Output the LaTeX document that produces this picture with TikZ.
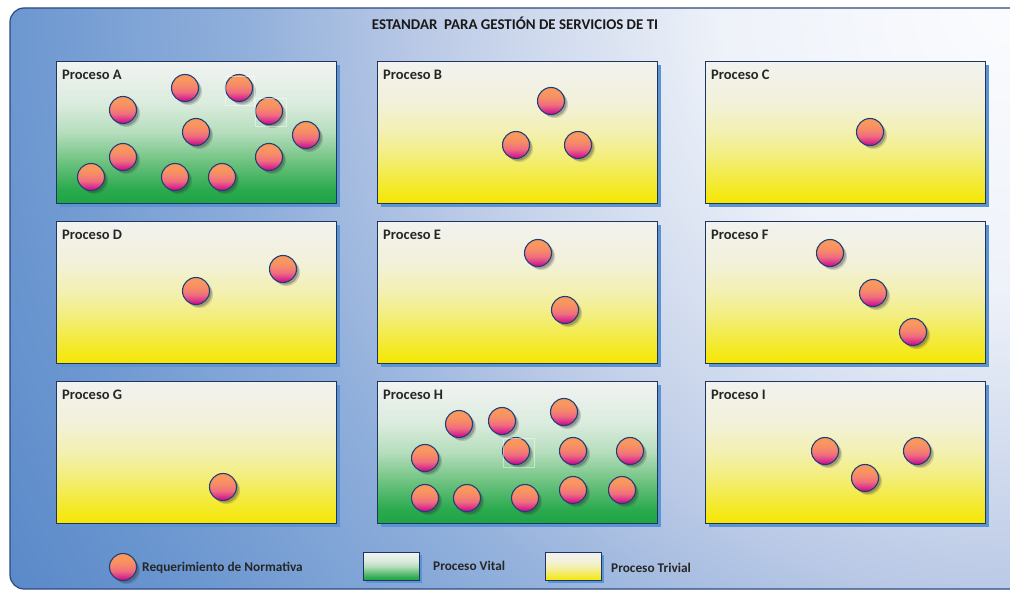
\documentclass[tikz,border=0pt]{standalone}
\usepackage{fontspec}
\setmainfont{Carlito}
\usetikzlibrary{shadows}

% palette
\definecolor{bgline}{HTML}{2E4A7D}
\definecolor{boxedge}{HTML}{1F3560}
\definecolor{boxshade}{HTML}{5B93D3}
\definecolor{balledge}{HTML}{1F3F7A}
\definecolor{ball1}{HTML}{F9985E}
\definecolor{ball2}{HTML}{F68A68}
\definecolor{ball3}{HTML}{EE6A80}
\definecolor{ball4}{HTML}{D0108F}
\definecolor{labelgray}{HTML}{262626}
% background glow
\definecolor{bg0}{HTML}{FBFCFE}
\definecolor{bg1}{HTML}{EEF2F9}
\definecolor{bg2}{HTML}{C9D5EB}
\definecolor{bg3}{HTML}{BAC9E6}
\definecolor{bg4}{HTML}{90AFDB}
\definecolor{bg5}{HTML}{6C97D0}
\definecolor{bg6}{HTML}{5A89C9}
% green fill of vital processes
\definecolor{vg1}{HTML}{1DA544}
\definecolor{vg2}{HTML}{2AAA4E}
\definecolor{vg3}{HTML}{6FC381}
\definecolor{vg4}{HTML}{B5DDBC}
\definecolor{vg5}{HTML}{DAEBDD}
\definecolor{vg6}{HTML}{F2F3F2}
% yellow fill of trivial processes
\definecolor{yg1}{HTML}{F5E700}
\definecolor{yg2}{HTML}{F4EA3A}
\definecolor{yg3}{HTML}{F3EE7E}
\definecolor{yg4}{HTML}{F3F0B0}
\definecolor{yg5}{HTML}{F2F1D8}
\definecolor{yg6}{HTML}{F2F2F0}

\pgfdeclareradialshading{bgglow}{\pgfpointorigin}{color(0bp)=(bg0); color(6bp)=(bg1); color(10.6bp)=(bg2); color(12.3bp)=(bg3); color(16bp)=(bg4); color(20.8bp)=(bg5); color(24.2bp)=(bg6); color(50bp)=(bg6)}
\pgfdeclareverticalshading{vitalfill}{100bp}{color(0bp)=(vg1); color(25bp)=(vg1); color(30bp)=(vg2); color(40bp)=(vg3); color(50bp)=(vg4); color(60bp)=(vg5); color(75bp)=(vg6); color(100bp)=(vg6)}
\pgfdeclareverticalshading{trivialfill}{100bp}{color(0bp)=(yg1); color(25bp)=(yg1); color(33bp)=(yg2); color(42bp)=(yg3); color(50bp)=(yg4); color(60bp)=(yg5); color(75bp)=(yg6); color(100bp)=(yg6)}
\pgfdeclareverticalshading{ballfill}{100bp}{color(0bp)=(ball4); color(27bp)=(ball4); color(42bp)=(ball3); color(55bp)=(ball2); color(66bp)=(ball1); color(100bp)=(ball1)}

\tikzset{
  procbox/.style={rectangle, draw=boxedge, line width=1.1pt, anchor=north west,
    minimum width=280pt, minimum height=142pt, inner sep=0pt, shade,
    drop shadow={shadow xshift=3pt, shadow yshift=-3pt, fill=boxshade, opacity=1}},
  vital/.style={procbox, shading=vitalfill},
  trivial/.style={procbox, shading=trivialfill},
  proclabel/.style={anchor=west, inner sep=0pt, text=labelgray,
    font=\fontsize{14.5}{16}\selectfont\bfseries},
  req/.style={circle, draw=balledge, line width=1.1pt, minimum size=27pt, inner sep=0pt,
    shade, shading=ballfill,
    drop shadow={shadow xshift=3.5pt, shadow yshift=-3.5pt, opacity=0.18, fill=black!80},
    drop shadow={shadow xshift=2.2pt, shadow yshift=-2.2pt, opacity=0.3, fill=black!80}},
  selframe/.style={draw=white, line width=0.5pt, opacity=0.45},
  legbox/.style={rectangle, draw=boxedge, line width=1.1pt, anchor=north west,
    minimum width=56pt, minimum height=28pt, inner sep=0pt, shade,
    drop shadow={shadow xshift=2.5pt, shadow yshift=-2.5pt, fill=boxshade, opacity=1}},
  legtext/.style={anchor=west, inner sep=0pt, text=labelgray,
    font=\fontsize{13.3}{15}\selectfont\bfseries},
}

\begin{document}
\begin{tikzpicture}[x=1pt, y=-1pt]
\useasboundingbox (0,0) rectangle (1010,591);

% panel background
\begin{scope}
  \clip[rounded corners=14pt] (1030,8) -- (10,8) -- (10,589) -- (1030,589) -- cycle;
  \shade[shading=bgglow] (1010,0) circle[radius=1200];
\end{scope}
\draw[bgline, line width=1.2pt, rounded corners=14pt] (1030,8) -- (10,8) -- (10,589) -- (1030,589);

\node[text=black!90, inner sep=0pt, font=\fontsize{14.9}{17}\selectfont\bfseries] (title) at (515,23)
  {ESTANDAR\ \ PARA GESTIÓN DE SERVICIOS DE TI};

% process boxes
\node[vital]   (boxA) at (56,61)  {};
\node[trivial] (boxB) at (377,61) {};
\node[trivial] (boxC) at (705,61) {};
\node[trivial] (boxD) at (56,221)  {};
\node[trivial] (boxE) at (377,221) {};
\node[trivial] (boxF) at (705,221) {};
\node[trivial] (boxG) at (56,381)  {};
\node[vital]   (boxH) at (377,381) {};
\node[trivial] (boxI) at (705,381) {};

\foreach \b in {A,B,C,D,E,F,G,H,I}
  \node[proclabel] (lab\b) at ([xshift=6pt, yshift=-14pt]box\b.north west) {Proceso \b};

% Proceso A
\node[req] (a1)  at (123,110) {};
\node[req] (a2)  at (185,88)  {};
\node[req] (a3)  at (239,88)  {};
\node[req] (a4)  at (269,111) {};
\node[req] (a5)  at (196,132) {};
\node[req] (a6)  at (306,135) {};
\node[req] (a7)  at (123,157) {};
\node[req] (a8)  at (269,157) {};
\node[req] (a9)  at (91,177)  {};
\node[req] (a10) at (175,177) {};
\node[req] (a11) at (222,177) {};
\draw[selframe] (225.5,76.5) rectangle (254,105);
\draw[selframe] (255,98) rectangle (286.5,126.5);

% Proceso B
\node[req] (b1) at (551,101) {};
\node[req] (b2) at (516,145) {};
\node[req] (b3) at (578,145) {};

% Proceso C
\node[req] (c1) at (870,132) {};

% Proceso D
\node[req] (d1) at (196,291) {};
\node[req] (d2) at (283,269) {};

% Proceso E
\node[req] (e1) at (538,253) {};
\node[req] (e2) at (565,310) {};

% Proceso F
\node[req] (f1) at (830,253) {};
\node[req] (f2) at (873,293) {};
\node[req] (f3) at (913,332) {};

% Proceso G
\node[req] (g1) at (223,487) {};

% Proceso H
\node[req] (h1)  at (459,424) {};
\node[req] (h2)  at (502,421) {};
\node[req] (h3)  at (564,412) {};
\node[req] (h4)  at (425,458) {};
\node[req] (h5)  at (516,451) {};
\node[req] (h6)  at (573,451) {};
\node[req] (h7)  at (630,451) {};
\node[req] (h8)  at (425,498) {};
\node[req] (h9)  at (467,498) {};
\node[req] (h10) at (525,498) {};
\node[req] (h11) at (573,490) {};
\node[req] (h12) at (622,490) {};
\draw[selframe] (503.5,438.5) rectangle (534.5,467.5);

% Proceso I
\node[req] (i1) at (825,451) {};
\node[req] (i2) at (865,478) {};
\node[req] (i3) at (917,451) {};

% legend
\node[req] (legReq) at (123,567) {};
\node[legtext] (legReqText) at (142,568) {Requerimiento de Normativa};
\node[legbox, shading=vitalfill] (legVital) at (363,552) {};
\node[legtext] (legVitalText) at (433,566) {Proceso Vital};
\node[legbox, shading=trivialfill] (legTrivial) at (545,552) {};
\node[legtext] (legTrivialText) at (611,568) {Proceso Trivial};
\end{tikzpicture}
\end{document}
